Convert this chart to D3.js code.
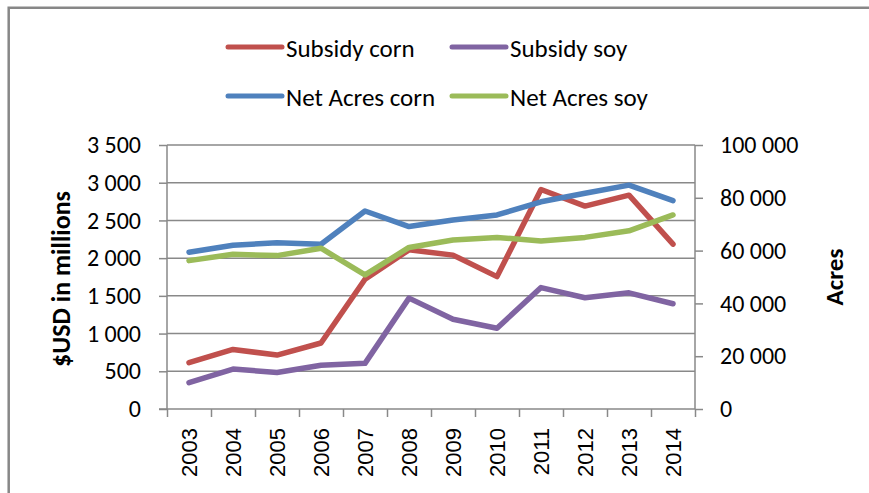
<!DOCTYPE html>
<html>
<head>
<meta charset="utf-8">
<script src="https://cdn.jsdelivr.net/npm/d3@7"></script>
<style>
  html, body { margin: 0; padding: 0; background: #fff; }
  svg { display: block; }
</style>
</head>
<body>
<svg id="chart" width="869" height="493"></svg>
<script>
// ---- data ----
const years = ["2003","2004","2005","2006","2007","2008","2009","2010","2011","2012","2013","2014"];
const subsidyCorn = [615, 790, 715, 875, 1720, 2110, 2040, 1755, 2910, 2690, 2835, 2185];
const subsidySoy  = [350, 530, 485, 580, 605, 1470, 1190, 1070, 1610, 1475, 1540, 1395];
const netAcresCorn = [59400, 62000, 63000, 62400, 75000, 69100, 71600, 73500, 78500, 81700, 84800, 78900];
const netAcresSoy  = [56200, 58600, 58100, 60900, 50800, 61200, 64000, 65000, 63600, 65000, 67500, 73500];
const leftTicks = [0, 500, 1000, 1500, 2000, 2500, 3000, 3500];
const rightTicks = [0, 20000, 40000, 60000, 80000, 100000];
const leftTitle = "$USD  in millions";
const rightTitle = "Acres";
const seriesNames = ["Subsidy corn", "Subsidy soy", "Net Acres corn", "Net Acres soy"];
const seriesColors = ["#C0504D", "#8064A2", "#4F81BD", "#9BBB59"];

// ---- layout ----
const svg = d3.select("#chart");
const L = 167, R = 695, T = 145, B = 409;
const gridColor = "#898989";
const mainFont = "Carlito, Lato, 'Open Sans', sans-serif";

const x = d3.scaleBand().domain(years).range([L, R]).padding(0);
const xIdx = d3.scaleLinear().domain([0, years.length]).range([L, R]);
const yL = d3.scaleLinear().domain([0, 3500]).range([B, T]);
const yR = d3.scaleLinear().domain([0, 100000]).range([B, T]);

const loc = d3.formatLocale({decimal: ",", thousands: "\u00a0", grouping: [3], currency: ["", ""]});
const fmt = loc.format(",d");

// outer frame (left and top edges visible)
svg.append("path")
  .attr("d", "M8.7,493 L8.7,7.7 L869,7.7")
  .attr("fill", "none").attr("stroke", "#878787").attr("stroke-width", 2.5);

// gridlines
svg.append("g").selectAll("line").data(leftTicks.slice(1)).join("line")
  .attr("x1", L).attr("x2", R)
  .attr("y1", d => yL(d)).attr("y2", d => yL(d))
  .attr("stroke", gridColor).attr("stroke-width", 1.5);

// left axis
const gL = svg.append("g").attr("transform", `translate(${L},0)`)
  .call(d3.axisLeft(yL).tickValues(leftTicks).tickSize(8).tickPadding(18).tickFormat(fmt));
// right axis
const gR = svg.append("g").attr("transform", `translate(${R},0)`)
  .call(d3.axisRight(yR).tickValues(rightTicks).tickSize(8).tickPadding(17).tickFormat(fmt));
[gL, gR].forEach(g => {
  g.select(".domain").attr("stroke", gridColor).attr("stroke-width", 1.5)
   .attr("d", `M0,${B}V${T}`);
  g.selectAll(".tick line").attr("stroke", gridColor).attr("stroke-width", 1.5);
  g.selectAll(".tick text").attr("fill", "#000")
   .style("font-family", mainFont).style("font-size", "24px");
});

// x axis: boundary ticks
const gXt = svg.append("g").attr("transform", `translate(0,${B})`)
  .call(d3.axisBottom(xIdx).tickValues(d3.range(years.length + 1)).tickSize(8).tickFormat(""));
gXt.select(".domain").attr("stroke", gridColor).attr("stroke-width", 1.5).attr("d", `M${L - 8},0H${R}`);
gXt.selectAll(".tick line").attr("stroke", gridColor).attr("stroke-width", 1.5);

// x axis labels
const gX = svg.append("g").attr("transform", `translate(0,${B})`)
  .call(d3.axisBottom(x).tickSize(0).tickPadding(0));
gX.select(".domain").remove();
gX.selectAll(".tick text")
  .attr("fill", "#000")
  .style("font-family", "'Liberation Sans', Arial, sans-serif").style("font-size", "22px")
  .attr("text-anchor", "end")
  .attr("dy", null).attr("y", 0)
  .attr("transform", "translate(8,19) rotate(-90)");

// axis titles
svg.append("text")
  .attr("transform", `translate(61,${(T + B) / 2 + 2}) rotate(-90)`)
  .attr("text-anchor", "middle").attr("dominant-baseline", "central")
  .style("font-family", mainFont).style("font-size", "26px").style("font-weight", "bold")
  .text(leftTitle);
svg.append("text")
  .attr("transform", `translate(834,${(T + B) / 2}) rotate(-90)`)
  .attr("text-anchor", "middle").attr("dominant-baseline", "central")
  .style("font-family", mainFont).style("font-size", "25px").style("font-weight", "bold")
  .text(rightTitle);

// lines
const series = [
  {vals: subsidyCorn, y: yL},
  {vals: subsidySoy, y: yL},
  {vals: netAcresCorn, y: yR},
  {vals: netAcresSoy, y: yR}
];
series.forEach((s, i) => {
  const line = d3.line()
    .x((d, j) => x(years[j]) + x.bandwidth() / 2)
    .y(d => s.y(d));
  svg.append("path").datum(s.vals)
    .attr("d", line)
    .attr("fill", "none").attr("stroke", seriesColors[i])
    .attr("stroke-width", 5.5).attr("stroke-linejoin", "round").attr("stroke-linecap", "round");
});

// legend
const legendPos = [
  {x: 228, y: 47}, {x: 452, y: 47}, {x: 228, y: 96}, {x: 452, y: 96}
];
const lg = svg.append("g").selectAll("g").data(seriesNames).join("g")
  .attr("transform", (d, i) => `translate(${legendPos[i].x},${legendPos[i].y})`);
lg.append("line").attr("x1", 0).attr("x2", 54).attr("y1", 0).attr("y2", 0)
  .attr("stroke", (d, i) => seriesColors[i]).attr("stroke-width", 5).attr("stroke-linecap", "round");
lg.append("text").attr("x", 58).attr("y", 1).attr("dominant-baseline", "central")
  .style("font-family", mainFont).style("font-size", "25px").attr("fill", "#000")
  .text(d => d);
</script>
</body>
</html>
